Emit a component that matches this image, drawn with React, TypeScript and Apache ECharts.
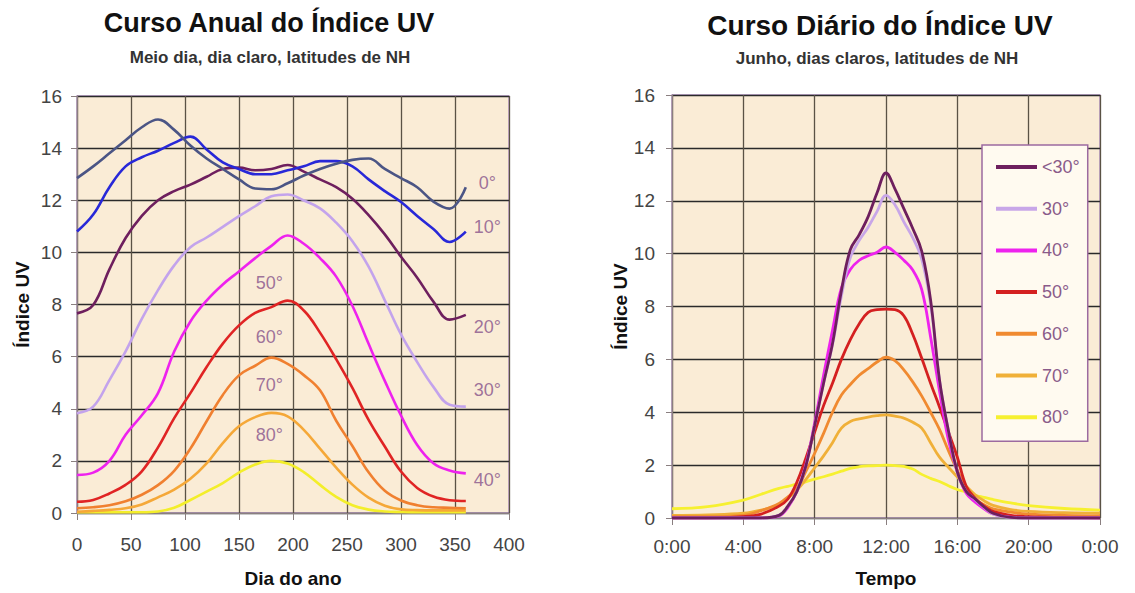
import React, { useEffect, useRef } from "react";
import * as echarts from "echarts";

// ---------- Annual course (left) ----------
const annualDays = [0, 15, 30, 45, 60, 75, 90, 105, 120, 135, 150, 165, 180, 195, 210, 225, 240, 255, 270, 285, 300, 315, 330, 345, 360];
const annualNames = ["0°", "10°", "20°", "30°", "40°", "50°", "60°", "70°", "80°"];
const uv0 = [12.85, 13.3, 13.8, 14.3, 14.8, 15.1, 14.7, 14.1, 13.6, 13.2, 12.8, 12.45, 12.42, 12.65, 12.95, 13.2, 13.4, 13.55, 13.6, 13.2, 12.85, 12.5, 11.95, 11.68, 12.5];
const uv10 = [10.8, 11.45, 12.5, 13.3, 13.65, 13.9, 14.2, 14.44, 13.95, 13.45, 13.2, 13.0, 13.0, 13.15, 13.3, 13.5, 13.5, 13.3, 12.8, 12.35, 11.93, 11.4, 10.9, 10.4, 10.8];
const uv20 = [7.66, 7.98, 9.35, 10.55, 11.4, 12.0, 12.35, 12.6, 12.9, 13.2, 13.25, 13.15, 13.2, 13.35, 13.1, 12.8, 12.5, 12.06, 11.43, 10.69, 9.83, 9.03, 8.11, 7.42, 7.6];
const uv30 = [3.83, 4.08, 5.1, 6.2, 7.45, 8.55, 9.5, 10.2, 10.57, 10.98, 11.39, 11.77, 12.15, 12.22, 11.99, 11.69, 11.14, 10.43, 9.45, 8.16, 6.85, 5.79, 4.84, 4.15, 4.08];
const uv40 = [1.46, 1.55, 2.0, 3.0, 3.75, 4.6, 6.2, 7.35, 8.15, 8.77, 9.27, 9.78, 10.25, 10.65, 10.33, 9.78, 9.07, 7.95, 6.49, 5.07, 3.74, 2.61, 1.91, 1.63, 1.52];
const uv50 = [0.43, 0.5, 0.75, 1.08, 1.6, 2.52, 3.64, 4.6, 5.6, 6.5, 7.2, 7.68, 7.9, 8.15, 7.77, 6.92, 5.9, 4.8, 3.57, 2.55, 1.59, 0.96, 0.63, 0.49, 0.46];
const uv60 = [0.18, 0.22, 0.3, 0.45, 0.7, 1.07, 1.62, 2.47, 3.52, 4.53, 5.28, 5.65, 5.96, 5.72, 5.29, 4.71, 3.54, 2.57, 1.56, 0.85, 0.48, 0.3, 0.22, 0.2, 0.18];
const uv70 = [0.05, 0.08, 0.12, 0.18, 0.33, 0.6, 0.9, 1.31, 1.9, 2.68, 3.33, 3.68, 3.84, 3.71, 3.19, 2.47, 1.74, 1.09, 0.59, 0.28, 0.14, 0.11, 0.1, 0.1, 0.1];
const uv80 = [0.03, 0.03, 0.03, 0.03, 0.03, 0.06, 0.2, 0.5, 0.82, 1.15, 1.55, 1.86, 2.0, 1.9, 1.57, 1.08, 0.62, 0.3, 0.13, 0.06, 0.04, 0.03, 0.03, 0.03, 0.03];
const annualColors = ["#4b5585", "#2828d8", "#6e1f5e", "#c3a3ec", "#ee22ee", "#e02424", "#f08030", "#f5a838", "#f3ee2a"];

// in-plot latitude labels (data coordinates)
const annotText = ["0°", "10°", "20°", "30°", "40°", "50°", "60°", "70°", "80°"];
const annotDay = [380, 380, 380, 380, 380, 178, 178, 178, 178];
const annotUV = [12.65, 10.99, 7.15, 4.72, 1.27, 8.81, 6.77, 4.91, 2.99];

// ---------- Daily course (right) ----------
const hours = [0, 2, 4, 5, 6, 6.5, 7, 7.5, 8, 8.5, 9, 9.5, 10, 10.5, 11, 11.5, 12, 12.5, 13, 13.5, 14, 14.5, 15, 15.5, 16, 16.5, 17, 17.5, 18, 19, 20, 22, 24];
const dailyNames = ["<30°", "30°", "40°", "50°", "60°", "70°", "80°"];
const dLt30 = [0, 0, 0, 0, 0.1, 0.45, 1.0, 1.95, 3.5, 5.1, 6.6, 8.6, 10.15, 10.72, 11.4, 12.3, 13.05, 12.45, 11.7, 10.95, 10.1, 8.25, 5.22, 3.3, 1.75, 1.0, 0.72, 0.42, 0.18, 0.02, 0, 0, 0];
const d30 = [0, 0, 0, 0, 0.1, 0.45, 1.0, 1.95, 3.5, 5.1, 6.55, 8.4, 9.85, 10.5, 11.0, 11.6, 12.2, 11.85, 11.2, 10.6, 9.8, 8.1, 5.2, 3.3, 1.7, 1.0, 0.7, 0.4, 0.15, 0.02, 0, 0, 0];
const d40 = [0, 0, 0, 0, 0.08, 0.4, 1.0, 2.0, 3.6, 5.4, 7.1, 8.7, 9.4, 9.75, 9.92, 10.05, 10.25, 10.05, 9.75, 9.38, 8.65, 6.85, 4.8, 2.95, 1.75, 0.93, 0.6, 0.35, 0.15, 0.03, 0, 0, 0];
const d50 = [0, 0, 0.05, 0.15, 0.45, 0.72, 1.35, 2.25, 3.25, 4.25, 5.1, 6.0, 6.75, 7.35, 7.78, 7.88, 7.9, 7.88, 7.65, 6.95, 6.05, 5.1, 4.2, 3.25, 2.3, 1.2, 0.75, 0.45, 0.25, 0.1, 0.05, 0.02, 0];
const d60 = [0.05, 0.05, 0.1, 0.28, 0.55, 0.8, 1.12, 1.75, 2.45, 3.2, 4.0, 4.65, 5.05, 5.4, 5.65, 5.9, 6.08, 5.95, 5.6, 5.15, 4.62, 4.0, 3.35, 2.55, 1.8, 1.15, 0.72, 0.5, 0.35, 0.22, 0.15, 0.1, 0.08];
const d70 = [0.1, 0.12, 0.18, 0.3, 0.5, 0.75, 1.05, 1.45, 1.9, 2.35, 2.85, 3.4, 3.65, 3.75, 3.82, 3.87, 3.9, 3.85, 3.78, 3.62, 3.4, 2.85, 2.3, 1.92, 1.55, 1.2, 0.88, 0.65, 0.48, 0.32, 0.25, 0.2, 0.18];
const d80 = [0.35, 0.43, 0.68, 0.9, 1.12, 1.2, 1.28, 1.37, 1.47, 1.56, 1.66, 1.77, 1.88, 1.94, 1.97, 1.98, 2.0, 1.98, 1.95, 1.85, 1.65, 1.5, 1.38, 1.22, 1.08, 0.98, 0.86, 0.78, 0.7, 0.57, 0.47, 0.36, 0.3];
const dailyColors = ["#6e1f5e", "#c8a6e8", "#ee22ee", "#d42020", "#f08a30", "#f0b038", "#f6f030"];
const timeTickLabels = ["0:00", "4:00", "8:00", "12:00", "16:00", "20:00", "0:00"];

const FONT = "'Liberation Sans', Arial, Helvetica, sans-serif";

export default function App() {
  const ref = useRef<HTMLDivElement>(null);

  useEffect(() => {
    document.body.style.margin = "0";
    if (!ref.current) return;
    const chart = echarts.init(ref.current, undefined, { renderer: "svg" });

    const annualSets = [uv0, uv10, uv20, uv30, uv40, uv50, uv60, uv70, uv80];
    const dailySets = [dLt30, d30, d40, d50, d60, d70, d80];

    const axisCommonY = (gridIndex: number, margin: number, nameGap: number) => ({
      type: "value",
      gridIndex,
      min: 0,
      max: 16,
      interval: 2,
      name: "Índice UV",
      nameLocation: "middle",
      nameGap,
      nameTextStyle: { fontFamily: FONT, fontSize: 19, fontWeight: "bold", color: "#111" },
      axisLine: { show: true, lineStyle: { color: "#8a7f80", width: 1.2 } },
      axisTick: { show: true, length: 6, lineStyle: { color: "#8a7f80" } },
      axisLabel: { fontFamily: FONT, fontSize: 19, color: "#444", margin },
      splitLine: { show: true, lineStyle: { color: "#2a2a2a", width: 1.3 } },
    });

    const annualSeries = annualSets.map((vals, k) => ({
      name: "a" + annualNames[k],
      type: "line",
      xAxisIndex: 0,
      yAxisIndex: 0,
      data: annualDays.map((d, i) => [d, vals[i]]),
      smooth: 0.4,
      showSymbol: false,
      symbol: "none",
      lineStyle: { color: annualColors[k], width: 2.6 },
      itemStyle: { color: annualColors[k] },
      z: 3 + (9 - k),
    }));

    const labelSeries = {
      name: "labels",
      type: "scatter",
      xAxisIndex: 0,
      yAxisIndex: 0,
      symbolSize: 0,
      data: annotText.map((t, i) => ({ value: [annotDay[i], annotUV[i]], name: t })),
      label: {
        show: true,
        position: "inside",
        formatter: (p: any) => p.name,
        fontFamily: FONT,
        fontSize: 18,
        color: "#86528a",
      },
      silent: true,
      z: 20,
    };

    const dailySeries = dailySets.map((vals, k) => ({
      name: dailyNames[k],
      type: "line",
      xAxisIndex: 1,
      yAxisIndex: 1,
      data: hours.map((h, i) => [h, vals[i]]),
      smooth: 0.4,
      showSymbol: false,
      symbol: "none",
      lineStyle: { color: dailyColors[k], width: 2.8 },
      itemStyle: { color: dailyColors[k] },
      z: 3 + (7 - k),
    }));

    chart.setOption({
      animation: false,
      backgroundColor: "#ffffff",
      title: [
        {
          text: "Curso Anual do Índice UV",
          left: 269,
          top: 9,
          textAlign: "center",
          padding: 0,
          textStyle: { fontFamily: FONT, fontSize: 27, fontWeight: "bold", color: "#111" },
        },
        {
          text: "Meio dia, dia claro, latitudes de NH",
          left: 270,
          top: 49,
          textAlign: "center",
          padding: 0,
          textStyle: { fontFamily: FONT, fontSize: 17, fontWeight: "bold", color: "#333" },
        },
        {
          text: "Curso Diário do Índice UV",
          left: 880,
          top: 11,
          textAlign: "center",
          padding: 0,
          textStyle: { fontFamily: FONT, fontSize: 28, fontWeight: "bold", color: "#111" },
        },
        {
          text: "Junho, dias claros, latitudes de NH",
          left: 877,
          top: 50,
          textAlign: "center",
          padding: 0,
          textStyle: { fontFamily: FONT, fontSize: 17, fontWeight: "bold", color: "#333" },
        },
      ],
      grid: [
        {
          left: 77,
          top: 96,
          width: 432,
          height: 417,
          show: true,
          backgroundColor: "#faecd6",
          borderColor: "#b898c8",
          borderWidth: 1.5,
        },
        {
          left: 672,
          top: 95,
          width: 428,
          height: 423,
          show: true,
          backgroundColor: "#faecd6",
          borderColor: "#b898c8",
          borderWidth: 1.5,
        },
      ],
      xAxis: [
        {
          type: "value",
          gridIndex: 0,
          min: 0,
          max: 400,
          interval: 50,
          name: "Dia do ano",
          nameLocation: "middle",
          nameGap: 56,
          nameTextStyle: { fontFamily: FONT, fontSize: 19, fontWeight: "bold", color: "#111" },
          axisLine: { show: true, lineStyle: { color: "#8a7f80", width: 1.2 } },
          axisTick: { show: true, length: 7, lineStyle: { color: "#8a7f80" } },
          axisLabel: { fontFamily: FONT, fontSize: 19, color: "#444", margin: 22 },
          splitLine: { show: true, lineStyle: { color: "#5a5245", width: 1.3 } },
        },
        {
          type: "value",
          gridIndex: 1,
          min: 0,
          max: 24,
          interval: 4,
          name: "Tempo",
          nameLocation: "middle",
          nameGap: 51,
          nameTextStyle: { fontFamily: FONT, fontSize: 19, fontWeight: "bold", color: "#111" },
          axisLine: { show: true, lineStyle: { color: "#8a7f80", width: 1.2 } },
          axisTick: { show: true, length: 7, lineStyle: { color: "#8a7f80" } },
          axisLabel: {
            fontFamily: FONT,
            fontSize: 19,
            color: "#444",
            margin: 19,
            formatter: (_v: number, i: number) => timeTickLabels[i] ?? "",
          },
          splitLine: { show: true, lineStyle: { color: "#5a5245", width: 1.3 } },
        },
      ],
      yAxis: [axisCommonY(0, 15, 45), axisCommonY(1, 17, 42)],
      legend: {
        data: dailyNames,
        orient: "vertical",
        left: 982,
        top: 145,
        padding: [12, 8, 14, 14],
        itemGap: 21.7,
        itemWidth: 41,
        itemHeight: 4,
        icon: "rect",
        backgroundColor: "#fffaf0",
        borderColor: "#9c6aa0",
        borderWidth: 1.5,
        borderRadius: 0,
        selectedMode: false,
        textStyle: {
          fontFamily: FONT,
          fontSize: 18,
          color: "#8a5a8a",
          width: 36,
          align: "right",
          lineHeight: 20,
        },
      },
      series: [...annualSeries, labelSeries, ...dailySeries],
    } as any);

    return () => chart.dispose();
  }, []);

  return <div ref={ref} style={{ width: 1135, height: 593 }} />;
}
